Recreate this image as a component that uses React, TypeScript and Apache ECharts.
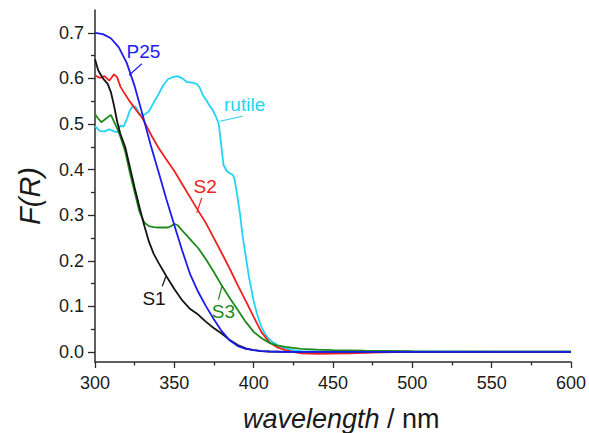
import React, { useEffect, useRef } from "react";
import * as echarts from "echarts";

const FONT = '"Liberation Sans", Arial, Helvetica, sans-serif';

// ---- data (wavelength in nm, F(R)) ----
const wlP25 = [300, 305, 310, 315, 320, 325, 330, 335, 340, 345, 350, 355, 360, 365, 370, 375, 380, 385, 390, 395, 400, 405, 410, 420, 600];
const fP25 = [0.700, 0.697, 0.688, 0.668, 0.634, 0.583, 0.520, 0.455, 0.395, 0.335, 0.278, 0.222, 0.170, 0.132, 0.100, 0.071, 0.045, 0.025, 0.013, 0.007, 0.004, 0.002, 0.001, 0, 0];

const wlS1 = [300, 302, 305, 308, 310, 312, 314, 316, 319, 322, 325, 328, 331, 334, 337, 340, 345, 350, 355, 360, 365, 370, 375, 380, 385, 390, 395, 400, 405, 410, 420, 600];
const fS1 = [0.642, 0.618, 0.600, 0.588, 0.570, 0.540, 0.505, 0.478, 0.450, 0.405, 0.360, 0.318, 0.278, 0.242, 0.215, 0.196, 0.166, 0.138, 0.113, 0.094, 0.082, 0.066, 0.052, 0.040, 0.026, 0.015, 0.008, 0.004, 0.002, 0.001, 0, 0];

const wlS2 = [300, 303, 306, 309, 312, 314, 316, 319, 322, 326, 330, 333, 336, 340, 345, 350, 355, 360, 365, 370, 375, 380, 385, 390, 395, 400, 405, 410, 415, 420, 425, 430, 440, 460, 480, 500, 600];
const fS2 = [0.607, 0.601, 0.605, 0.595, 0.609, 0.602, 0.582, 0.565, 0.549, 0.530, 0.512, 0.492, 0.472, 0.448, 0.422, 0.397, 0.368, 0.339, 0.310, 0.282, 0.249, 0.216, 0.182, 0.146, 0.112, 0.077, 0.043, 0.021, 0.010, 0.004, 0.000, -0.003, -0.004, -0.003, -0.001, 0, 0];

const wlS3 = [300, 302, 304, 307, 310, 312, 314, 316, 319, 322, 325, 328, 331, 334, 337, 340, 343, 346, 348, 350, 352, 355, 358, 361, 365, 370, 375, 380, 385, 390, 395, 400, 405, 410, 415, 420, 425, 430, 440, 450, 470, 500, 600];
const fS3 = [0.521, 0.512, 0.504, 0.512, 0.520, 0.505, 0.490, 0.472, 0.440, 0.393, 0.350, 0.308, 0.284, 0.276, 0.274, 0.273, 0.273, 0.273, 0.276, 0.281, 0.278, 0.266, 0.255, 0.243, 0.228, 0.203, 0.175, 0.145, 0.118, 0.092, 0.066, 0.044, 0.030, 0.020, 0.014, 0.011, 0.009, 0.007, 0.005, 0.004, 0.003, 0.002, 0.001];

const wlRut = [300, 303, 306, 309, 312, 314, 316, 318, 320, 322, 324, 326, 328, 331, 334, 337, 340, 343, 346, 349, 352, 355, 358, 361, 364, 366, 368, 370, 372, 374, 376, 378, 379, 380, 381, 383, 385, 387, 388, 389, 390, 391.5, 393, 395, 397, 400, 402, 404, 406, 408, 411, 415, 420, 425, 430, 450, 600];
const fRut = [0.495, 0.485, 0.484, 0.488, 0.484, 0.482, 0.497, 0.494, 0.510, 0.530, 0.540, 0.536, 0.522, 0.520, 0.528, 0.547, 0.565, 0.585, 0.598, 0.603, 0.605, 0.600, 0.592, 0.591, 0.588, 0.580, 0.563, 0.553, 0.541, 0.532, 0.518, 0.500, 0.470, 0.440, 0.410, 0.397, 0.392, 0.388, 0.378, 0.358, 0.335, 0.300, 0.255, 0.210, 0.165, 0.112, 0.085, 0.063, 0.047, 0.035, 0.024, 0.015, 0.008, 0.004, 0.002, 0.001, 0];

const yTickLabels = [0, 0.1, 0.2, 0.3, 0.4, 0.5, 0.6, 0.7];
const yMinorTicks = [0.05, 0.15, 0.25, 0.35, 0.45, 0.55, 0.65];

const COLORS = {
  P25: "#1c1cf0",
  S1: "#141414",
  S2: "#f02020",
  S3: "#1e8a1e",
  rutile: "#20d4f4",
};

// annotation: label text centre and leader line, in data coordinates
const annotations = [
  { name: "P25", text: [330.5, 0.660], line: [[329.5, 0.632], [321.5, 0.607]] },
  { name: "rutile", text: [394.3, 0.543], line: [[392.9, 0.517], [378.8, 0.506]] },
  { name: "S2", text: [369.4, 0.362], line: [[367.3, 0.338], [364.1, 0.305]] },
  { name: "S1", text: [337.2, 0.117], line: [[344.6, 0.165], [342.4, 0.144]] },
  { name: "S3", text: [380.9, 0.0885], line: [[377.8, 0.115], [379.9, 0.143]] },
];

const pairs = (wl: number[], f: number[]) => wl.map((w, i) => [w, f[i]]);

export default function App() {
  const ref = useRef<HTMLDivElement>(null);
  useEffect(() => {
    document.body.style.margin = "0";
    const chart = echarts.init(ref.current!, null, { renderer: "svg" });
    const axisColor = "#2b2b2b";
    const line = (name: string, wl: number[], f: number[]) => ({
      name,
      type: "line",
      data: pairs(wl, f),
      showSymbol: false,
      symbol: "none",
      smooth: false,
      lineStyle: { color: (COLORS as any)[name], width: 1.8 },
      itemStyle: { color: (COLORS as any)[name] },
      z: 2,
    });
    const option: any = {
      animation: false,
      backgroundColor: "#ffffff",
      grid: { left: 95, right: 18, top: 10, bottom: 71, containLabel: false, outerBoundsMode: "none" },
      xAxis: {
        type: "value",
        min: 300,
        max: 600,
        interval: 50,
        splitLine: { show: false },
        axisLine: { show: true, onZero: false, lineStyle: { color: axisColor, width: 1.5 } },
        axisTick: { show: true, inside: false, length: 6, lineStyle: { color: axisColor, width: 1.3 } },
        minorTick: { show: true, splitNumber: 2, length: 3.5, lineStyle: { color: axisColor, width: 1.3 } },
        axisLabel: { fontSize: 18, fontFamily: FONT, color: "#1a1a1a", margin: 12 },
      },
      yAxis: [
        {
          type: "value",
          min: -0.022,
          max: 0.75,
          position: "left",
          splitLine: { show: false },
          axisLine: { show: true, onZero: false, lineStyle: { color: axisColor, width: 1.5 } },
          axisTick: { show: true, inside: false, length: 7, customValues: yTickLabels, lineStyle: { color: axisColor, width: 1.3 } },
          axisLabel: {
            customValues: yTickLabels,
            fontSize: 18,
            fontFamily: FONT,
            color: "#1a1a1a",
            margin: 11,
            formatter: (v: number) => v.toFixed(1),
          },
        },
        {
          type: "value",
          min: -0.022,
          max: 0.75,
          position: "left",
          offset: 0,
          splitLine: { show: false },
          axisLine: { show: false },
          axisLabel: { show: false },
          axisTick: { show: true, inside: false, length: 4, customValues: yMinorTicks, lineStyle: { color: axisColor, width: 1.3 } },
        },
      ],
      series: [
        line("rutile", wlRut, fRut),
        line("S2", wlS2, fS2),
        line("S3", wlS3, fS3),
        line("S1", wlS1, fS1),
        line("P25", wlP25, fP25),
      ],
    };
    chart.setOption(option);

    const toPx = (p: number[]) => chart.convertToPixel({ xAxisIndex: 0, yAxisIndex: 0 }, p) as number[];
    const graphics: any[] = [];
    annotations.forEach((a) => {
      const color = (COLORS as any)[a.name];
      const c = toPx(a.text);
      const p1 = toPx(a.line[0]);
      const p2 = toPx(a.line[1]);
      graphics.push({
        type: "text",
        x: c[0],
        y: c[1],
        z: 10,
        style: { text: a.name, fill: color, font: `19px ${FONT}`, align: "center", verticalAlign: "middle" },
      });
      graphics.push({
        type: "line",
        z: 10,
        shape: { x1: p1[0], y1: p1[1], x2: p2[0], y2: p2[1] },
        style: { stroke: color, lineWidth: 1.2 },
      });
    });
    graphics.push({
      type: "text",
      x: 30,
      y: 196,
      rotation: Math.PI / 2,
      z: 10,
      style: { text: "F(R)", fill: "#1a1a1a", font: `italic 29px ${FONT}`, align: "center", verticalAlign: "middle" },
    });
    graphics.push({
      type: "text",
      x: 243,
      y: 419,
      z: 10,
      style: {
        text: "{i|wavelength}{n| / nm}",
        fill: "#1a1a1a",
        align: "left",
        verticalAlign: "middle",
        rich: {
          i: { font: `italic 27px ${FONT}`, fill: "#1a1a1a" },
          n: { font: `27px ${FONT}`, fill: "#1a1a1a" },
        },
      },
    });
    chart.setOption({ graphic: graphics });
    return () => chart.dispose();
  }, []);
  return <div ref={ref} style={{ width: 589, height: 433 }} />;
}
